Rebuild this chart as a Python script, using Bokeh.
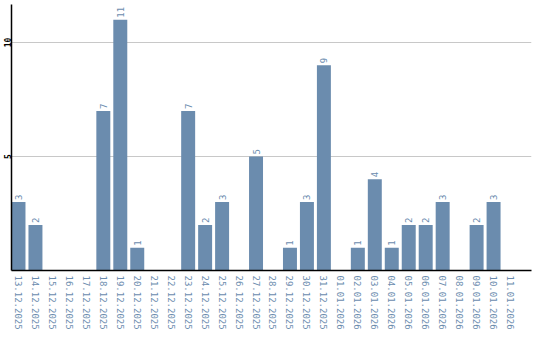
from bokeh.plotting import figure
from bokeh.models import Range1d, FixedTicker, ColumnDataSource
from bokeh.core.properties import value
from bokeh.embed import file_html
from bokeh.resources import INLINE
import math

dates = ["13.12.2025", "14.12.2025", "15.12.2025", "16.12.2025", "17.12.2025",
         "18.12.2025", "19.12.2025", "20.12.2025", "21.12.2025", "22.12.2025",
         "23.12.2025", "24.12.2025", "25.12.2025", "26.12.2025", "27.12.2025",
         "28.12.2025", "29.12.2025", "30.12.2025", "31.12.2025", "01.01.2026",
         "02.01.2026", "03.01.2026", "04.01.2026", "05.01.2026", "06.01.2026",
         "07.01.2026", "08.01.2026", "09.01.2026", "10.01.2026", "11.01.2026"]
counts = [3, 2, 0, 0, 0, 7, 11, 1, 0, 0, 7, 2, 3, 0, 5,
          0, 1, 3, 9, 0, 1, 4, 1, 2, 2, 3, 0, 2, 3, 0]
y_ticks = [5, 10]

BLUE = "#6b8cae"
xs = list(range(len(dates)))

p = figure(width=540, height=340, output_backend="svg", toolbar_location=None,
           x_range=Range1d(-7/17, -7/17 + 521/17), y_range=Range1d(0, 266/22.8),
           min_border_left=0, min_border_right=9, min_border_top=4, min_border_bottom=70)
p.outline_line_color = None
p.background_fill_color = "white"
p.border_fill_color = "white"

src = ColumnDataSource(dict(x=xs, top=counts, label=[str(c) if c > 0 else "" for c in counts]))
p.vbar(x="x", top="top", width=14/17, bottom=0, source=src, fill_color=BLUE, line_color=None)
p.text(x="x", y="top", text="label", source=src, angle=math.pi/2, text_align="left",
       text_baseline="middle", y_offset=-2, text_color=BLUE,
       text_font=value("DejaVu Sans Mono"), text_font_size="9px")

p.xgrid.visible = False
p.ygrid.ticker = FixedTicker(ticks=y_ticks)
p.ygrid.grid_line_color = "#c8c8c8"

xa = p.xaxis[0]
xa.ticker = FixedTicker(ticks=xs)
xa.major_label_overrides = {i: d for i, d in enumerate(dates)}
xa.major_label_orientation = "vertical"
xa.major_label_text_color = BLUE
xa.major_label_text_font = "DejaVu Sans Mono"
xa.major_label_text_font_size = "9px"
xa.major_tick_line_color = None
xa.minor_tick_line_color = None
xa.major_tick_out = 0
xa.major_tick_in = 0
xa.axis_line_color = "black"
xa.axis_line_width = 1.5
xa.major_label_standoff = 5

ya = p.yaxis[0]
ya.ticker = FixedTicker(ticks=y_ticks)
ya.major_label_orientation = "vertical"
ya.major_label_text_color = "black"
ya.major_label_text_font = "DejaVu Sans Mono"
ya.major_label_text_font_size = "8px"
ya.major_label_text_font_style = "bold"
ya.major_tick_line_color = None
ya.minor_tick_line_color = None
ya.major_tick_out = 0
ya.major_tick_in = 0
ya.axis_line_color = "black"
ya.axis_line_width = 1.5
ya.major_label_standoff = 1

open("out.html", "w").write(file_html(p, INLINE))
